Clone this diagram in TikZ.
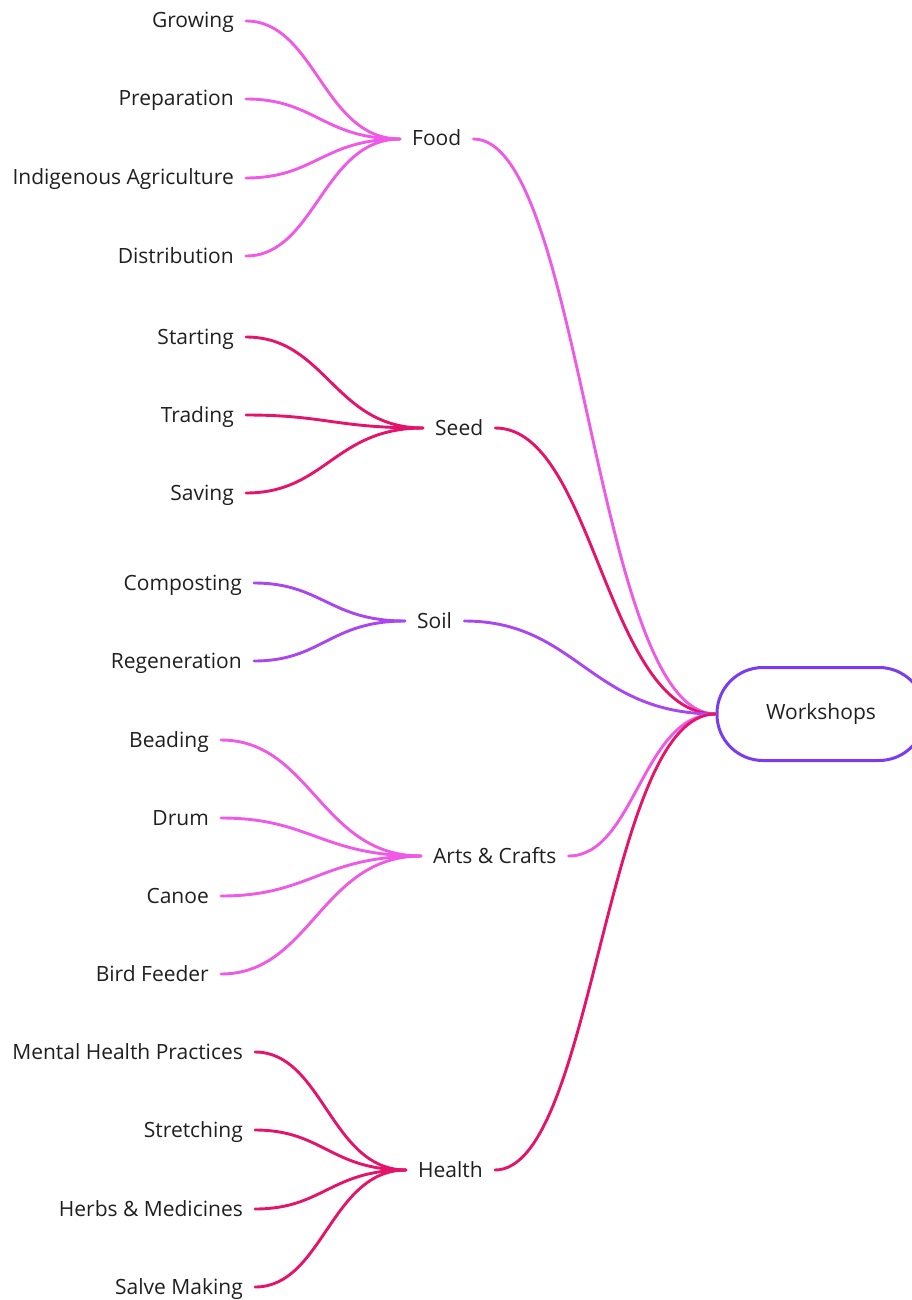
\documentclass[tikz,border=0pt]{standalone}
\usepackage{fontspec}
\setmainfont{Open Sans}
\usetikzlibrary{calc}

\definecolor{foodpink}{HTML}{EE5AE4}
\definecolor{seedred}{HTML}{E3146A}
\definecolor{soilpurple}{HTML}{A846F0}
\definecolor{hubpurple}{HTML}{7A3CF0}

\tikzset{
  label/.style={inner xsep=12pt,inner ysep=0pt,text height=14pt,text depth=0pt,
    font=\fontsize{21}{25}\selectfont,text=black!88},
  leaf/.style={label,anchor=east},
  topic/.style={label,anchor=west},
  twig/.style={line width=2.9pt,line cap=round},
  branch/.style={to path={let \p1=(\tikztostart), \p2=(\tikztotarget) in
    .. controls ({0.55*\x1+0.45*\x2},\y1) and ({0.5*\x1+0.5*\x2},\y2) .. (\tikztotarget)}}
}

\begin{document}
\begin{tikzpicture}[x=1pt,y=-1pt]
\useasboundingbox (0,0) rectangle (911,1300);

% centre
\node[draw=hubpurple,line width=3pt,rounded corners=46pt,minimum width=208pt,
  minimum height=93pt,font=\fontsize{21}{25}\selectfont,text=black!88] (work) at (821,714) {Workshops};

% topics
\node[topic] (food) at (400,139) {Food};
\node[topic] (seed) at (423,428) {Seed};
\node[topic] (soil) at (405,621) {Soil};
\node[topic] (arts) at (421,856) {Arts \& Crafts};
\node[topic] (health) at (406,1170) {Health};

% leaves
\node[leaf] (grow) at (246,21) {Growing};
\node[leaf] (prep) at (246,99) {Preparation};
\node[leaf] (indig) at (246,178) {Indigenous Agriculture};
\node[leaf] (distr) at (246,256) {Distribution};

\node[leaf] (start) at (246,337) {Starting};
\node[leaf] (trade) at (246,415) {Trading};
\node[leaf] (save) at (246,493) {Saving};

\node[leaf] (compost) at (254,583) {Composting};
\node[leaf] (regen) at (254,661) {Regeneration};

\node[leaf] (bead) at (221,740) {Beading};
\node[leaf] (drum) at (221,818) {Drum};
\node[leaf] (canoe) at (221,896) {Canoe};
\node[leaf] (bird) at (221,974) {Bird Feeder};

\node[leaf] (mental) at (255,1052) {Mental Health Practices};
\node[leaf] (stretch) at (255,1130) {Stretching};
\node[leaf] (herbs) at (255,1209) {Herbs \& Medicines};
\node[leaf] (salve) at (255,1287) {Salve Making};

% branches
\foreach \l in {grow,prep,indig,distr} \draw[twig,foodpink] (\l.east) to[branch] (food.west);
\foreach \l in {start,trade,save} \draw[twig,seedred] (\l.east) to[branch] (seed.west);
\foreach \l in {compost,regen} \draw[twig,soilpurple] (\l.east) to[branch] (soil.west);
\foreach \l in {bead,drum,canoe,bird} \draw[twig,foodpink] (\l.east) to[branch] (arts.west);
\foreach \l in {mental,stretch,herbs,salve} \draw[twig,seedred] (\l.east) to[branch] (health.west);

\draw[twig,foodpink] (food.east) to[branch] (work.west);
\draw[twig,seedred] (seed.east) to[branch] (work.west);
\draw[twig,soilpurple] (soil.east) to[branch] (work.west);
\draw[twig,foodpink] (arts.east) to[branch] (work.west);
\draw[twig,seedred] (health.east) to[branch] (work.west);
\end{tikzpicture}
\end{document}
